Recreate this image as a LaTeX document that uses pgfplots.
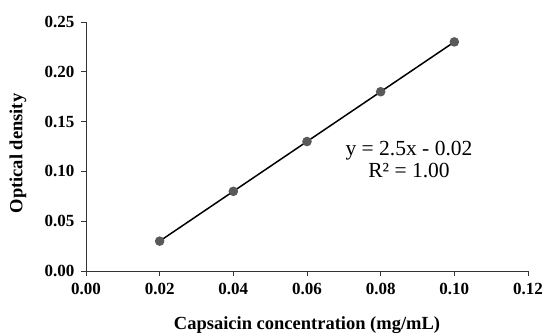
\documentclass[border=0pt]{standalone}
\usepackage{pgfplots}
\pgfplotsset{compat=1.18}
\usepackage{fontspec}
\setmainfont{Liberation Serif}
\begin{document}
\begin{tikzpicture}
\begin{axis}[
  scale only axis,
  width=442bp, height=249bp,
  at={(0,0)}, anchor=south west,
  xmin=0, xmax=0.12, ymin=0, ymax=0.25,
  axis x line*=bottom, axis y line*=left,
  axis line style={line width=0.8pt, color=black!80},
  xtick={0,0.02,...,0.12}, ytick={0,0.05,...,0.25},
  tick align=outside, major tick length=5bp,
  tick style={line width=0.8pt, color=black!80},
  /pgf/number format/assume math mode=true,
  xticklabel style={/pgf/number format/.cd, fixed, fixed zerofill, precision=2, /tikz/.cd, yshift=-4bp},
  yticklabel style={/pgf/number format/.cd, fixed, fixed zerofill, precision=2, /tikz/.cd, xshift=-3bp},
  ticklabel style={font=\fontsize{17bp}{19bp}\selectfont\bfseries},
  scaled ticks=false,
  xlabel={Capsaicin concentration (mg/mL)},
  ylabel={Optical density},
  label style={font=\fontsize{18.5bp}{20bp}\selectfont\bfseries},
  xlabel style={at={([yshift=-54bp]axis description cs:0.5,0)}, anchor=center},
  ylabel style={at={([xshift=-68bp,yshift=-7bp]axis description cs:0,0.5)}, anchor=center, rotate=0},
  clip=false,
]
\addplot[black, line width=1.5pt, mark=*, mark size=4bp, mark options={fill=black!65, draw=black!65}]
  coordinates {(0.02,0.03) (0.04,0.08) (0.06,0.13) (0.08,0.18) (0.10,0.23)};
\node[font=\fontsize{21.5bp}{22bp}\selectfont, align=center] at (axis cs:0.0877,0.112) {y = 2.5x - 0.02\\R² = 1.00};
\end{axis}
\pgfresetboundingbox
\path[use as bounding box] (-86bp,-65bp) rectangle (458bp,271bp);
\end{tikzpicture}
\end{document}
